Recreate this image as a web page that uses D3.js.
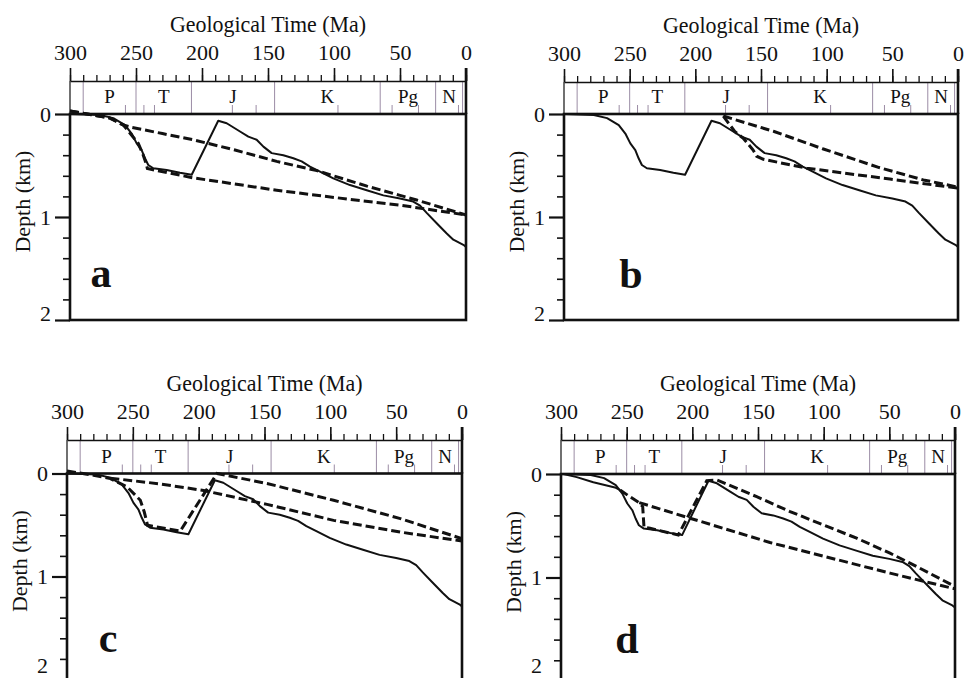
<!DOCTYPE html>
<html>
<head>
<meta charset="utf-8">
<script src="https://cdn.jsdelivr.net/npm/d3@7"></script>
<style>
  body { margin: 0; background: #fff; }
  svg { display: block; }
  text { font-family: "Liberation Serif", "Times New Roman", serif; fill: #111; }
</style>
</head>
<body>
<svg id="chart" width="964" height="678"></svg>
<script>
// ---- data (Ma, km) ----
const majorTimeTicks = [300, 250, 200, 150, 100, 50, 0];
const minorTimeTicks = d3.range(0, 301, 10);
const depthTicks = [0, 1, 2];
const minorDepthTicks = [0.2, 0.4, 0.6, 0.8, 1.2, 1.4, 1.6, 1.8];

const periodNames = ["P", "T", "J", "K", "Pg", "N"];
const periodStarts = [290, 250, 208, 145, 65, 23];
const quaternaryBase = 2.6;
const epochTicks = [258, 244, 236, 177, 159, 97, 56, 36, 5.7];

// observed burial curve (same in every panel)
const burialCurve = [[300,0],[277.3,0.01],[267.2,0.04],[258.3,0.107],[253.3,0.19],[249.5,0.285],[245.7,0.35],
  [243.2,0.43],[240.7,0.495],[236.9,0.527],[226.8,0.544],[216.7,0.57],[207.8,0.59],[187.7,0.065],[181.3,0.09],
  [171.2,0.17],[164.9,0.22],[158.6,0.25],[153.5,0.317],[147.2,0.38],[138.4,0.40],[130.8,0.43],[124.5,0.46],
  [118.2,0.51],[110.6,0.56],[100.5,0.625],[87.9,0.69],[75.2,0.74],[62.6,0.79],[50,0.82],[40,0.85],[34.8,0.89],
  [29.8,0.96],[22.2,1.06],[14.6,1.16],[9.6,1.22],[2,1.27],[0,1.29]];

// model curves, dashed
const modelA1 = [[300,-0.03],[282.3,0.01],[269.7,0.04],[259.6,0.107],[253.3,0.13],[230,0.19],[206.6,0.25],
  [175,0.35],[143.4,0.46],[113,0.55],[100.5,0.6],[75,0.7],[50,0.79],[37.4,0.835],[0,0.98]];
const modelA2 = [[300,-0.03],[282.3,0.01],[269.7,0.04],[259.6,0.107],[248.3,0.285],[244.5,0.40],[242.4,0.48],
  [241.4,0.53],[206.6,0.62],[143.4,0.74],[100,0.81],[50,0.885],[0,0.98]];
const modelB1 = [[178.7,0.02],[140,0.17],[102.5,0.34],[60,0.52],[26.4,0.64],[0,0.71]];
const modelB2 = [[178.7,0.02],[170,0.17],[163.5,0.235],[156,0.35],[153.3,0.41],[148.2,0.44],[115.2,0.526],
  [51.8,0.632],[0,0.72]];
const modelC1 = [[300,-0.025],[279.8,0.017],[267.1,0.049],[254.4,0.13],[244.3,0.26],[241.3,0.374],[238.8,0.503],
  [214,0.559],[186.1,0],[148.1,0.097],[97.5,0.26],[46.8,0.438],[0,0.633]];
const modelC2 = [[267.1,0.045],[230,0.10],[196.2,0.165],[148.1,0.30],[97.5,0.455],[46.8,0.569],[0,0.656]];
const modelD0 = [[298,0],[288,0.03],[275.4,0.08],[258.9,0.13],[255,0.155]];
const modelD1 = [[255,0.155],[247.5,0.22],[240.4,0.277],[237.8,0.315],[236.8,0.515],[232.2,0.525],[210.7,0.59],
  [189,0.065],[181.4,0.058],[151,0.219],[125.6,0.363],[100.3,0.492],[74.9,0.62],[49.5,0.765],[34.3,0.861],[0,1.087]];
const modelD2 = [[240.4,0.277],[201.8,0.427],[140.9,0.662],[49.5,0.958],[0,1.11]];

// ---- layout ----
const panels = [
  { label: "a", left: 70,  right: 466, axisY: 81,  top: 114,   kmPx: 103,   letterAt: [101, 1.68], solid: [burialCurve], dashed: [modelA1, modelA2] },
  { label: "b", left: 564, right: 958, axisY: 82,  top: 114,   kmPx: 103,   letterAt: [631, 1.69], solid: [burialCurve], dashed: [modelB1, modelB2] },
  { label: "c", left: 67,  right: 462, axisY: 440, top: 473.5, kmPx: 103,   letterAt: [108, 1.73], solid: [burialCurve], dashed: [modelC1, modelC2] },
  { label: "d", left: 561, right: 955, axisY: 440, top: 474,   kmPx: 103.5, letterAt: [627, 1.73], solid: [burialCurve, modelD0], dashed: [modelD1, modelD2] }
];

const svg = d3.select("#chart");
const W = 964, H = 678;
const FONT = '"Liberation Serif", "Times New Roman", serif';
const periodColor = "#9b8ca5";

panels.forEach(drawPanel);

function drawPanel(p) {
  const x = d3.scaleLinear().domain([300, 0]).range([p.left, p.right]);
  const y = d3.scaleLinear().domain([0, 2]).range([p.top, p.top + 2 * p.kmPx]);
  const g = svg.append("g");

  // title
  g.append("text")
    .attr("x", (p.left + p.right) / 2)
    .attr("y", p.axisY - 49)
    .attr("text-anchor", "middle")
    .attr("textLength", 196)
    .attr("lengthAdjust", "spacingAndGlyphs")
    .style("font-size", "23px")
    .text("Geological Time (Ma)");

  // period box
  const bounds = periodStarts.concat([quaternaryBase]);
  g.append("g").selectAll("line")
    .data(bounds)
    .join("line")
      .attr("x1", d => x(d)).attr("x2", d => x(d))
      .attr("y1", p.axisY).attr("y2", p.top)
      .attr("stroke", periodColor).attr("stroke-width", 1);

  g.append("g").selectAll("line")
    .data(epochTicks)
    .join("line")
      .attr("x1", d => x(d)).attr("x2", d => x(d))
      .attr("y1", p.top - 9).attr("y2", p.top)
      .attr("stroke", periodColor).attr("stroke-width", 1);

  g.append("line")
    .attr("x1", p.left).attr("x2", p.left)
    .attr("y1", p.axisY).attr("y2", p.top)
    .attr("stroke", "#111").attr("stroke-width", 1.2);

  const ends = periodStarts.slice(1).concat([quaternaryBase]);
  g.append("g").selectAll("text")
    .data(periodNames)
    .join("text")
      .attr("x", (d, i) => x((periodStarts[i] + ends[i]) / 2))
      .attr("y", p.top - 11)
      .attr("text-anchor", "middle")
      .style("font-size", "19px")
      .text(d => d);

  // top time axis
  const minorAxis = g.append("g")
    .attr("transform", `translate(0,${p.axisY})`)
    .call(d3.axisTop(x).tickValues(minorTimeTicks).tickSize(6).tickSizeOuter(0).tickFormat(""));
  minorAxis.selectAll("line, path").attr("stroke", "#111").attr("stroke-width", 1.3);

  const majorAxis = g.append("g")
    .attr("transform", `translate(0,${p.axisY})`)
    .call(d3.axisTop(x).tickValues(majorTimeTicks).tickSize(13).tickSizeOuter(0).tickPadding(8).tickFormat(d3.format("d")))
    .attr("font-size", 22).attr("font-family", FONT);
  majorAxis.select(".domain").remove();
  majorAxis.selectAll("line").attr("stroke", "#111").attr("stroke-width", 1.6);

  // depth axis
  const yMinor = g.append("g")
    .attr("transform", `translate(${p.left},0)`)
    .call(d3.axisLeft(y).tickValues(minorDepthTicks).tickSize(7).tickSizeOuter(0).tickFormat(""));
  yMinor.select(".domain").remove();
  yMinor.selectAll("line").attr("stroke", "#111").attr("stroke-width", 1.6);

  const yMajor = g.append("g")
    .attr("transform", `translate(${p.left},0)`)
    .call(d3.axisLeft(y).tickValues(depthTicks).tickSize(15).tickSizeOuter(0).tickPadding(4).tickFormat(d3.format("d")))
    .attr("font-size", 22).attr("font-family", FONT);
  yMajor.select(".domain").remove();
  yMajor.selectAll("line").attr("stroke", "#111").attr("stroke-width", 2.2);
  // the "2" label sits on its tick; keep it inside the page where the tick falls off the bottom
  yMajor.selectAll("text")
    .attr("dy", d => d === 2 ? "0em" : "0.32em")
    .attr("y", d => d === 2 ? Math.min(0, H - 6 - y(2)) : 0);

  g.append("text")
    .attr("transform", `translate(${p.left - 40},${y(0.85)}) rotate(-90)`)
    .attr("text-anchor", "middle")
    .attr("textLength", 102)
    .attr("lengthAdjust", "spacingAndGlyphs")
    .style("font-size", "22px")
    .text("Depth (km)");

  // plot frame
  g.append("rect")
    .attr("x", p.left).attr("y", p.top)
    .attr("width", p.right - p.left).attr("height", y(2) - p.top)
    .attr("fill", "none").attr("stroke", "#111").attr("stroke-width", 2.6);
  g.append("line")
    .attr("x1", p.right).attr("x2", p.right)
    .attr("y1", p.axisY - 13).attr("y2", p.top)
    .attr("stroke", "#111").attr("stroke-width", 2.6);

  // curves
  const line = d3.line().x(d => x(d[0])).y(d => y(d[1]));
  g.append("g").selectAll("path")
    .data(p.solid)
    .join("path")
      .attr("d", line)
      .attr("fill", "none").attr("stroke", "#111").attr("stroke-width", 2)
      .attr("stroke-linejoin", "round");
  g.append("g").selectAll("path")
    .data(p.dashed)
    .join("path")
      .attr("d", line)
      .attr("fill", "none").attr("stroke", "#111").attr("stroke-width", 3)
      .attr("stroke-dasharray", "9,4");

  // panel letter
  g.append("text")
    .attr("x", p.letterAt[0])
    .attr("y", y(p.letterAt[1]))
    .attr("text-anchor", "middle")
    .style("font-size", "42px")
    .style("font-weight", "bold")
    .text(p.label);
}
</script>
</body>
</html>
